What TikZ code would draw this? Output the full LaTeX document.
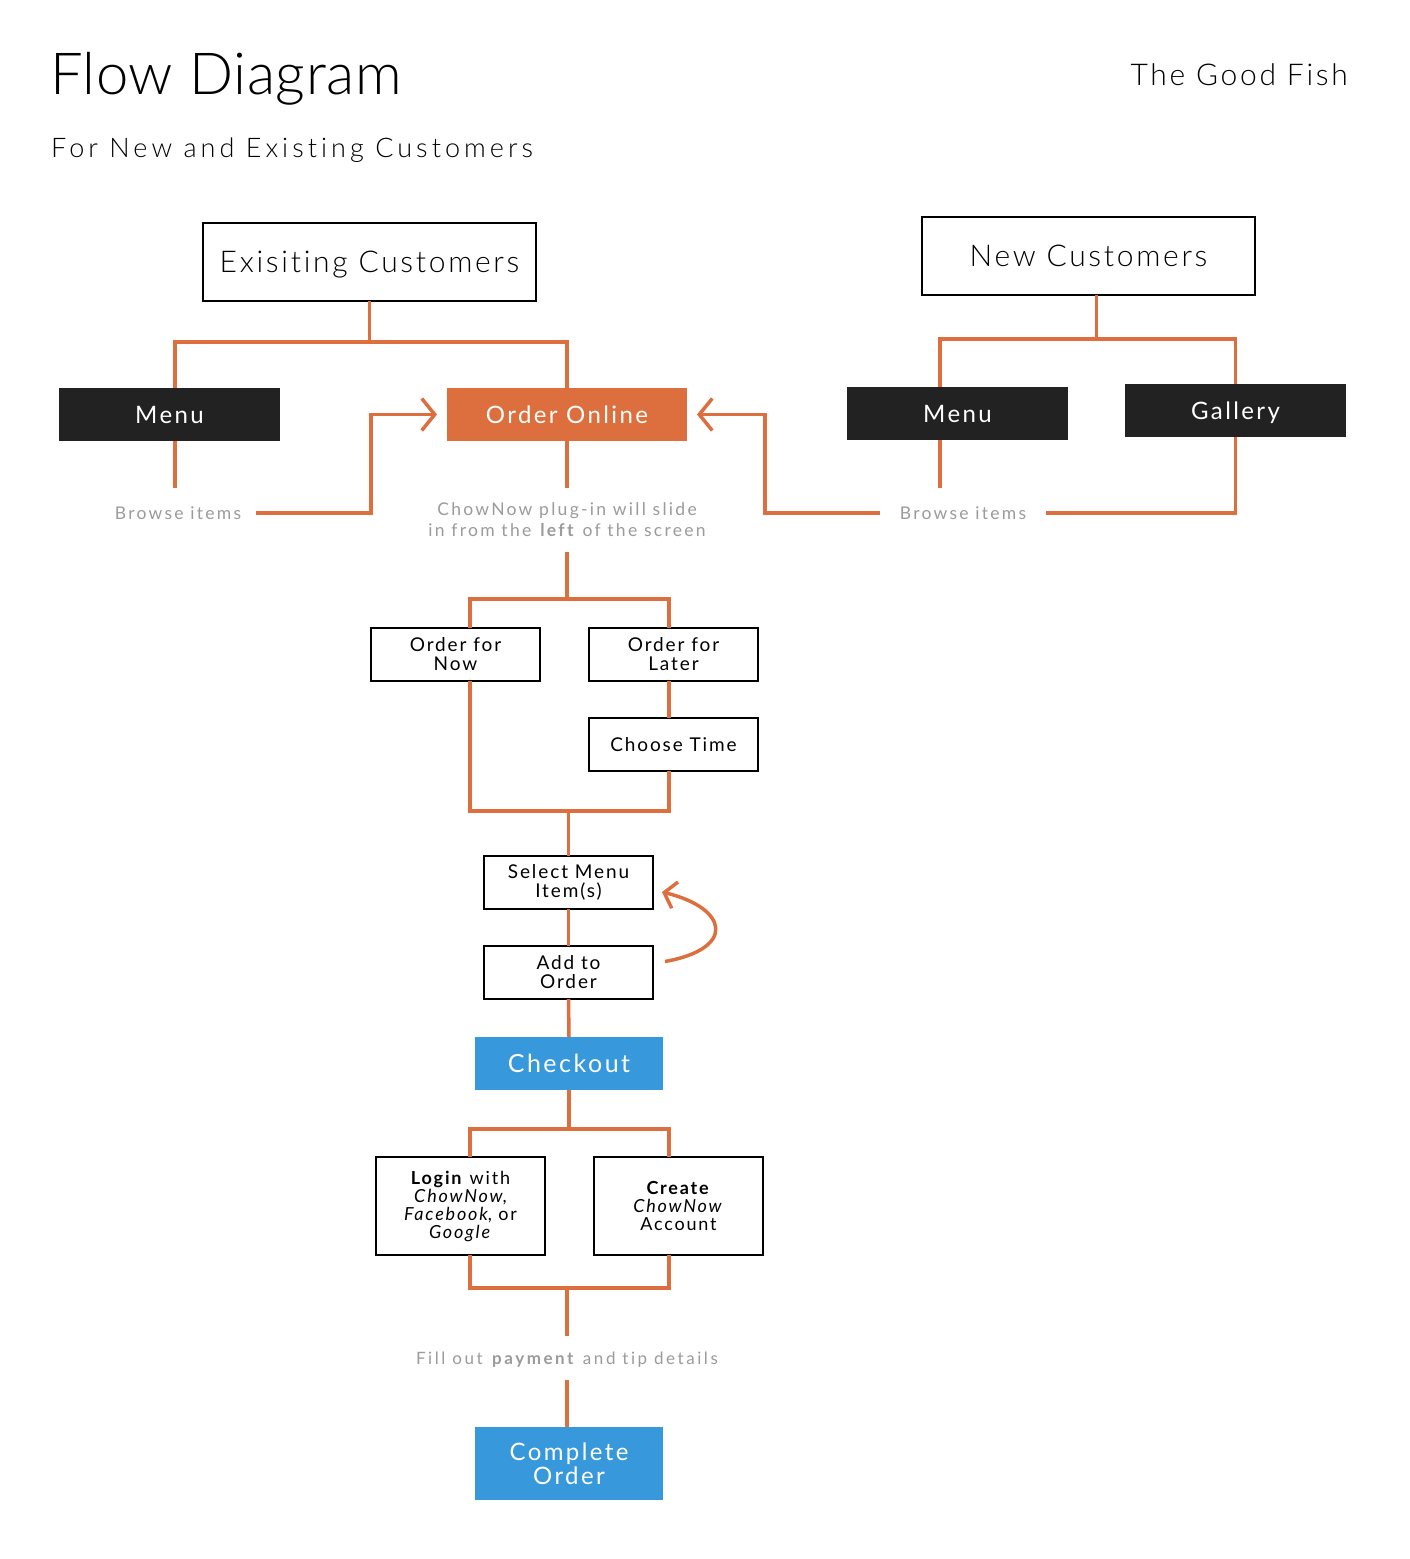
\documentclass[tikz,border=0pt]{standalone}
\usepackage{fontspec}
\setmainfont{Lato}[LetterSpace=10, Ligatures=NoCommon]
\IfFontExistsTF{Lato Light}
  {\newfontfamily\lightf{Lato Light}[LetterSpace=10, Ligatures=NoCommon]}
  {\newfontfamily\lightf{Lato}[LetterSpace=10, Ligatures=NoCommon]}
\usetikzlibrary{arrows.meta}
\definecolor{orng}{HTML}{DD6E3D}
\definecolor{dark}{HTML}{222222}
\definecolor{blu}{HTML}{3798DB}
\definecolor{gry}{HTML}{9B9B9B}
\newcommand\fsz[2]{\fontsize{#1}{#2}\selectfont}
\newcommand\lsp[1]{\addfontfeatures{LetterSpace=#1}}
\begin{document}
\begin{tikzpicture}[x=1pt,y=-1pt,
  wbox/.style={draw=black, line width=1.2pt, fill=white, inner sep=0pt, outer sep=0pt, align=center, text=black},
  dbox/.style={fill=dark, text=white, inner sep=0pt, outer sep=0pt, align=center},
  obox/.style={fill=orng, text=white, inner sep=0pt, outer sep=0pt, align=center},
  bbox/.style={fill=blu, text=white, inner sep=0pt, outer sep=0pt, align=center},
  glabel/.style={text=gry, inner sep=0pt, outer sep=0pt, align=center},
  conn/.style={draw=orng, line width=3.5pt},
  capht/.style={text height=#1, text depth=0pt},
  barb/.tip={Straight Barb[length=13pt,width=32pt]},
  sbarb/.tip={Straight Barb[length=11pt,width=27pt]}
]
\fill[white] (0,0) rectangle (1410,1559);
\useasboundingbox (0,0) rectangle (1410,1559);

% titles
\node[anchor=base west, inner sep=0pt, font=\lightf\fsz{58}{58}\lsp{1}] (title) at (50,94) {Flow Diagram};
\node[anchor=base west, inner sep=0pt, font=\lightf\fsz{27}{27}\lsp{15}] (subtitle) at (51,157) {For New and Existing Customers};
\node[anchor=base east, inner sep=0pt, font=\lightf\fsz{30}{30}\lsp{9}] (brand) at (1348,85) {The Good Fish};

% top boxes
\node[wbox, minimum width=333, minimum height=78, font=\lightf\fsz{30}{30}\lsp{9}, capht=21.5pt] (ec) at (369.5,262) {Exisiting Customers};
\node[wbox, minimum width=333, minimum height=78, font=\lightf\fsz{30}{30}\lsp{9}, capht=21.5pt] (nc) at (1088.5,256) {New Customers};

\node[dbox, minimum width=221, minimum height=53, font=\fsz{24}{24}, capht=17pt] (menuL) at (169.5,414.5) {Menu};
\node[obox, minimum width=240, minimum height=53, font=\fsz{24}{24}, capht=17pt] (oo) at (567,414.5) {Order Online};
\node[dbox, minimum width=221, minimum height=53, font=\fsz{24}{24}, capht=17pt] (menuR) at (957.5,413.5) {Menu};
\node[dbox, minimum width=221, minimum height=53, font=\fsz{24}{24}, capht=17pt] (gal) at (1235.5,410.5) {Gallery};

% labels
\node[glabel, minimum width=156, minimum height=50, font=\fsz{17.5}{21}\lsp{13}, capht=12.5pt] (browseL) at (178,513) {Browse items};
\node[glabel, minimum width=166, minimum height=50, font=\fsz{17.5}{21}\lsp{13}, capht=12.5pt] (browseR) at (963,513) {Browse items};
\node[glabel, minimum height=64, font=\fsz{17.5}{21}\lsp{13}] (plug) at (567,520) {ChowNow plug-in will slide\\in from the \textbf{left} of the screen};

% order choice
\node[wbox, minimum width=169, minimum height=53, font=\fsz{19}{19}] (now) at (455.5,654.5) {Order for\\Now};
\node[wbox, minimum width=169, minimum height=53, font=\fsz{19}{19}] (later) at (673.5,654.5) {Order for\\Later};
\node[wbox, minimum width=169, minimum height=53, font=\fsz{19}{19}, capht=14pt] (ct) at (673.5,744.5) {Choose Time};

\node[wbox, minimum width=169, minimum height=53, font=\fsz{19}{19}] (sel) at (568.5,882.5) {Select Menu\\Item(s)};
\node[wbox, minimum width=169, minimum height=53, font=\fsz{19}{19}] (add) at (568.5,972.5) {Add to\\Order};

\node[bbox, minimum width=188, minimum height=53, font=\fsz{25}{25}, capht=18pt] (co) at (569,1063.5) {Checkout};

\node[wbox, minimum width=169, minimum height=98, font=\fsz{18}{18}] (login) at (460.5,1206) {\textbf{Login} with\\\textit{ChowNow},\\\textit{Facebook}, or\\\textit{Google}};
\node[wbox, minimum width=169, minimum height=98, font=\fsz{18}{18}] (create) at (678.5,1206) {\textbf{Create}\\\textit{ChowNow}\\Account};

\node[glabel, minimum height=44, font=\fsz{17}{21}\lsp{15}, capht=12pt] (fill) at (567,1358) {Fill out \textbf{payment} and tip details};

\node[bbox, minimum width=188, minimum height=73, font=\fsz{24}{24}] (comp) at (569,1463.5) {Complete\\Order};

% connectors: existing customers
\coordinate (j1) at ([yshift=-41pt]ec.south);
\draw[conn] (ec.south) -- (j1);
\draw[conn] ([xshift=5.5pt]menuL.north) |- (j1) -| (oo.north);
\draw[conn] ([xshift=5.5pt]menuL.south) -- ([xshift=5.5pt]menuL.south |- browseL.north);
\draw[conn, -{barb}, shorten >=10pt] (browseL.east) -| ([xshift=-76pt]oo.west) -- (oo.west);

% connectors: new customers
\coordinate (j2) at ([xshift=8pt,yshift=-44pt]nc.south);
\draw[conn] ([xshift=8pt]nc.south) -- (j2);
\draw[conn] ([xshift=-17.5pt]menuR.north) |- (j2) -| (gal.north);
\draw[conn] ([xshift=-17.5pt]menuR.south) -- ([xshift=-17.5pt]menuR.south |- browseR.north);
\draw[conn, -{barb}, shorten >=10pt] (browseR.west) -| ([xshift=78pt]oo.east) -- (oo.east);
\draw[conn] (gal.south) |- (browseR.east);

% order online down
\draw[conn] (oo.south) -- (plug.north);
\coordinate (j3) at ([yshift=-47pt]plug.south);
\draw[conn] (plug.south) -- (j3);
\draw[conn] ([xshift=14.5pt]now.north) |- (j3) -| ([xshift=-4.5pt]later.north);
\draw[conn] ([xshift=-4.5pt]later.south) -- ([xshift=-4.5pt]ct.north);
\coordinate (j4) at ([yshift=45pt]sel.north);
\draw[conn] ([xshift=14.5pt]now.south) |- (j4) -| ([xshift=-4.5pt]ct.south);
\draw[conn] (j4) -- (sel.north);
\draw[conn] (sel.south) -- (add.north);
\draw[conn] (add.south) -- (co.north);

% loop
\coordinate (lA) at ([xshift=12pt,yshift=11pt]add.east);
\coordinate (lB) at ([xshift=9pt,yshift=-9.5pt]sel.east);
\draw[conn, -{sbarb}] (lA) .. controls +(72,-13) and +(66,16) .. (lB);

% checkout down
\coordinate (j5) at ([yshift=-39pt]co.south);
\draw[conn] (co.south) -- (j5);
\draw[conn] ([xshift=9.5pt]login.north) |- (j5) -| ([xshift=-9.5pt]create.north);
\coordinate (j6) at ([yshift=48pt]fill.north);
\draw[conn] ([xshift=9.5pt]login.south) |- (j6) -| ([xshift=-9.5pt]create.south);
\draw[conn] (j6) -- (fill.north);
\draw[conn] (fill.south) -- (fill.south |- comp.north);
\end{tikzpicture}
\end{document}
